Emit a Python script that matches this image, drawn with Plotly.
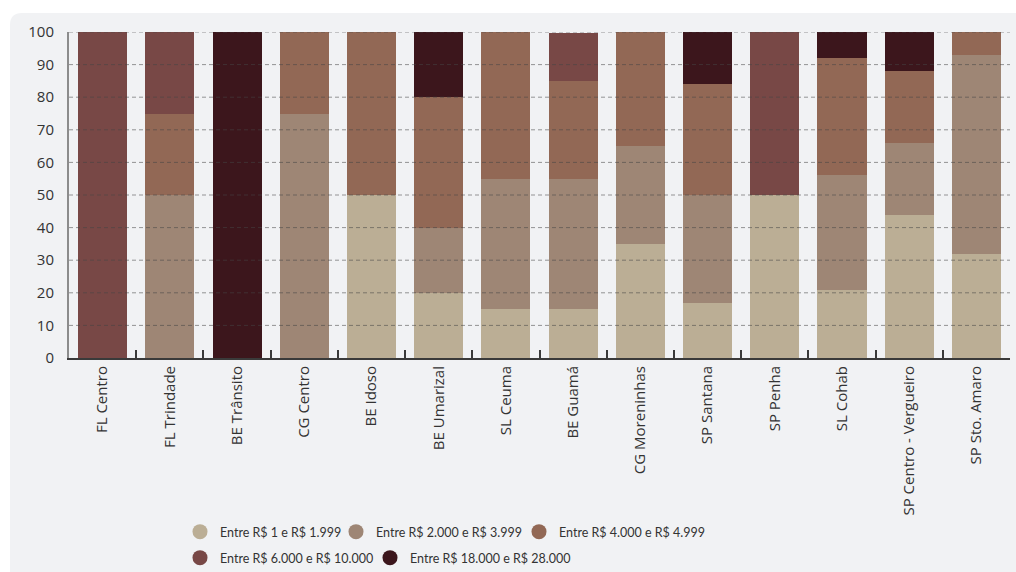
import plotly.graph_objects as go

categories = ["FL Centro", "FL Trindade", "BE Trânsito", "CG Centro", "BE Idoso", "BE Umarizal",
              "SL Ceuma", "BE Guamá", "CG Moreninhas", "SP Santana", "SP Penha", "SL Cohab",
              "SP Centro - Vergueiro", "SP Sto. Amaro"]

series_names = ["Entre R$ 1 e R$ 1.999", "Entre R$ 2.000 e R$ 3.999", "Entre R$ 4.000 e R$ 4.999",
                "Entre R$ 6.000 e R$ 10.000", "Entre R$ 18.000 e R$ 28.000"]

s1 = [0, 0, 0, 0, 50, 20, 15, 15, 35, 17, 50, 21, 44, 32]
s2 = [0, 50, 0, 75, 0, 20, 40, 40, 30, 33, 0, 35, 22, 61]
s3 = [0, 25, 0, 25, 50, 40, 45, 30, 35, 34, 0, 36, 22, 7]
s4 = [100, 25, 0, 0, 0, 0, 0, 14.8, 0, 0, 50, 0, 0, 0]
s5 = [0, 0, 100, 0, 0, 20, 0, 0, 0, 16, 0, 8, 12, 0]

y_ticks = [0, 10, 20, 30, 40, 50, 60, 70, 80, 90, 100]

colors = ["#bbae95", "#9e8675", "#926855", "#784846", "#3c161c"]
values = [s1, s2, s3, s4, s5]

W, H = 1016, 572
# plot area in screen pixels: x 69..1010, y 32..358
L, R = 69, W - 1010
T, B = 32, H - 358
pw, ph = W - L - R, H - T - B

fig = go.Figure()
for name, vals, col in zip(series_names, values, colors):
    fig.add_trace(go.Bar(x=categories, y=vals, name=name, marker=dict(color=col, line=dict(width=0)),
                         showlegend=False))

legend_ids = ["legend", "legend2", "legend3", "legend4", "legend5"]
for name, col, lid in zip(series_names, colors, legend_ids):
    fig.add_trace(go.Scatter(x=[None], y=[None], mode="markers", name=name,
                             marker=dict(symbol="circle", size=15, color=col),
                             legend=lid))

# dashed gridlines drawn above the bars
for v in y_ticks[1:]:
    fig.add_hline(y=v, line=dict(color="rgba(70,70,70,0.55)", width=1, dash="4px,3px"), layer="above")

def px_x(X):  # screen x -> paper
    return (X - L) / pw

def px_y(Y):  # screen y -> paper
    return (H - B - Y) / ph

# rounded panel background
x0, x1, y0, y1 = 10, 1030, 13, 590
r = 12
path = (f"M {px_x(x0)},{px_y(y0 + r)} "
        f"Q {px_x(x0)},{px_y(y0)} {px_x(x0 + r)},{px_y(y0)} "
        f"L {px_x(x1)},{px_y(y0)} L {px_x(x1)},{px_y(y1)} L {px_x(x0)},{px_y(y1)} Z")
fig.add_shape(type="path", path=path, xref="paper", yref="paper", fillcolor="#f1f2f4",
              line=dict(width=0), layer="below")

legend_font = dict(size=12.5, family="Lato, sans-serif", color="#333")
# legend symbol centres (screen px)
legend_centres = [(200, 532), (356, 532), (539, 532), (200, 558), (390, 558)]
legends = {}
for lid, (cx, cy) in zip(legend_ids, legend_centres):
    legends[lid] = dict(orientation="h", xref="container", yref="container",
                        x=(cx - 20) / W, y=1 - cy / H, xanchor="left", yanchor="middle",
                        bgcolor="rgba(0,0,0,0)", font=legend_font)

fig.update_layout(
    width=W, height=H,
    margin=dict(l=L, r=R, t=T, b=B, autoexpand=False),
    paper_bgcolor="white",
    plot_bgcolor="rgba(0,0,0,0)",
    barmode="stack",
    bargap=0.27,
    font=dict(family="Open Sans, sans-serif", color="#333333"),
    xaxis=dict(
        type="category", automargin=False,
        showline=True, linecolor="#3a3a3a", linewidth=2,
        ticks="inside", tickson="boundaries", ticklen=8, tickcolor="#3a3a3a", tickwidth=1.5,
        tickangle=-90, tickfont=dict(size=15, color="#333"),
        showgrid=False,
    ),
    yaxis=dict(
        range=[0, 100], tickvals=y_ticks, automargin=False,
        showline=True, linecolor="#8c8c8c", linewidth=2,
        showgrid=False, zeroline=False, ticks="", ticklabelstandoff=10,
        tickfont=dict(size=15, color="#333"),
    ),
    **legends,
)

fig.write_html("out.html", config={"displayModeBar": False},
               post_script="document.body.style.margin='0';document.body.style.overflow='hidden';")
